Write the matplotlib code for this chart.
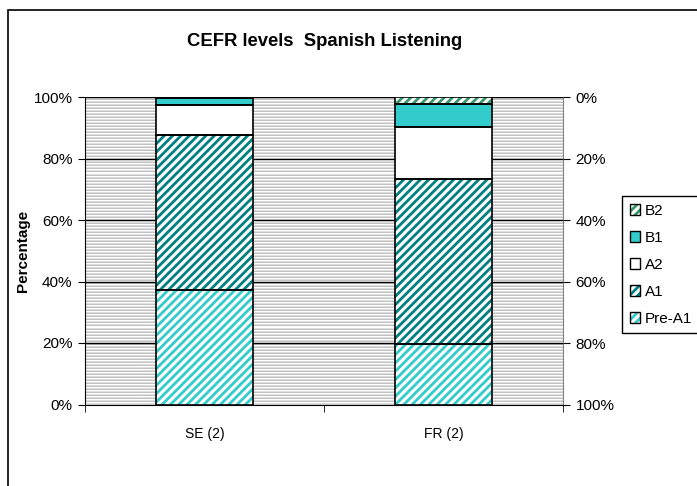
import matplotlib
matplotlib.use("Agg")
import matplotlib.pyplot as plt
from matplotlib.patches import Patch, Rectangle
from matplotlib.legend_handler import HandlerTuple
from matplotlib.ticker import FuncFormatter
import numpy as np

plt.rcParams["font.family"] = ["Liberation Sans", "DejaVu Sans"]
plt.rcParams["hatch.linewidth"] = 2.0

# data (percent of students per CEFR level)
countries = ["SE (2)", "FR (2)"]
levels = ["Pre-A1", "A1", "A2", "B1", "B2"]
pre_a1 = [37.1, 19.6]
a1 = [50.6, 53.7]
a2 = [9.7, 16.9]
b1 = [2.2, 7.4]
b2 = [0.4, 2.4]
series = [pre_a1, a1, a2, b1, b2]

# (face, hatch colour, hatch)
styles = [
    ("white", "#33cccc", "////"),
    ("white", "#008080", "////"),
    ("white", "white", None),
    ("#33cccc", "#33cccc", None),
    ("white", "#339966", "////"),
]

fig = plt.figure(figsize=(6.97, 4.86), dpi=100)
ax = fig.add_axes([85 / 697, 1 - 404.5 / 486, 478 / 697, 307.5 / 486])

# striped grey plot background (Excel style pattern fill)
stripe = np.tile([0.76, 1.0, 0.87], 102).reshape(-1, 1)
ax.imshow(stripe, cmap="gray", vmin=0, vmax=1, extent=(0, 1, 0, 1),
          transform=ax.transAxes, aspect="auto", interpolation="nearest", zorder=0)

x = np.arange(len(countries))
width = 0.41
bottom = np.zeros(len(countries))
handles = []
for vals, (face, hcol, hatch) in zip(series, styles):
    ax.bar(x, vals, width, bottom=bottom, color=face, edgecolor=hcol, hatch=hatch,
           linewidth=0, zorder=3)
    ax.bar(x, vals, width, bottom=bottom, fill=False, edgecolor="black",
           linewidth=1.2, zorder=4)
    bottom += np.array(vals)
    handles.append((Patch(facecolor=face, edgecolor=hcol, hatch=hatch, linewidth=0),
                    Patch(fill=False, edgecolor="black", linewidth=1)))

ax.set_xlim(-0.5, 1.5)
ax.set_ylim(0, 100)
ax.set_yticks(np.arange(0, 101, 20))
ax.yaxis.set_major_formatter(FuncFormatter(lambda v, p: f"{v:.0f}%"))
ax.set_xticks(x)
ax.set_xticklabels(countries)
ax.set_xticks([-0.5, 0.5, 1.5], minor=True)
ax.tick_params(axis="x", which="major", length=0, pad=16, labelsize=10)
ax.tick_params(axis="x", which="minor", length=5, direction="out")
ax.tick_params(axis="y", length=5, direction="out", labelsize=11, pad=4)
ax.grid(axis="y", color="black", linewidth=1, zorder=1)
ax.set_axisbelow(False)
for gl in ax.get_ygridlines():
    gl.set_zorder(1)
ax.spines["top"].set_visible(False)
ax.spines["right"].set_color("#808080")
ax.set_ylabel("Percentage", fontsize=11, fontweight="bold")
ax.yaxis.set_label_coords(-0.115, 0.5)

ax2 = ax.twinx()
ax2.set_ylim(100, 0)
ax2.set_yticks(np.arange(0, 101, 20))
ax2.yaxis.set_major_formatter(FuncFormatter(lambda v, p: f"{v:.0f}%"))
ax2.tick_params(axis="y", length=5, direction="out", labelsize=11, pad=4)
for s in ax2.spines.values():
    s.set_visible(False)

fig.text(325 / 697, 1 - 41 / 486, "CEFR levels  Spanish Listening", ha="center",
         va="center", fontsize=13.3, fontweight="bold")

leg = fig.legend(handles[::-1], levels[::-1], loc="upper left",
                 bbox_to_anchor=(622 / 697, 1 - 196 / 486), fontsize=11,
                 handler_map={tuple: HandlerTuple(ndivide=1)},
                 handlelength=0.7, handleheight=0.7, handletextpad=0.3,
                 labelspacing=0.85, borderpad=0.5, borderaxespad=0,
                 fancybox=False, edgecolor="black", framealpha=1)
leg.get_frame().set_linewidth(1)

# outer chart border (right and bottom run off the picture)
fig.patches.append(Rectangle((8 / 697, -0.2), 1.2, 1.2 - 10 / 486,
                             transform=fig.transFigure, fill=False,
                             edgecolor="black", linewidth=1.2))

fig.savefig("out.png", dpi=100)
